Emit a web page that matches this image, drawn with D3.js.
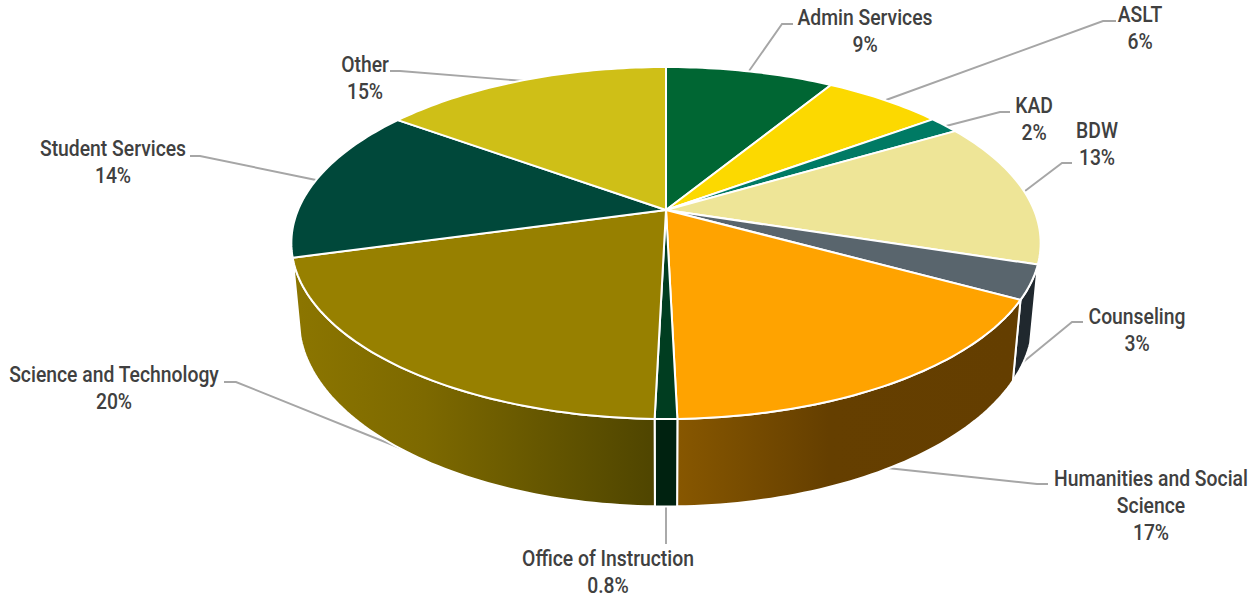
<!DOCTYPE html>
<html>
<head>
<meta charset="utf-8">
<title>Share by division</title>
<script src="https://d3js.org/d3.v7.min.js"></script>
<style>
  html, body { margin: 0; padding: 0; background: #fff; }
  svg { display: block; }
  text { font-family: Roboto, "Liberation Sans", sans-serif; font-weight: 500; font-size: 22.5px; fill: #404040; text-anchor: middle; }
</style>
</head>
<body>
<svg id="chart" width="1257" height="600"></svg>
<script>
// Divisions clockwise from twelve o'clock
const divisions = ["Admin Services", "ASLT", "KAD", "BDW", "Counseling",
  "Humanities and Social Science", "Office of Instruction",
  "Science and Technology", "Student Services", "Other"];
const shares = [8.7, 6.2, 1.6, 13.4, 3.1, 16.6, 0.8, 20.3, 14.3, 15.0];
const topColors = ["#006633", "#fcd900", "#007a64", "#eee597", "#59656d",
  "#ffa300", "#003d20", "#978000", "#00483a", "#cfbf17"];
const wallColors = [null, null, null, null, "#20282e", "url(#wall-humanities)", "#002210", "url(#wall-science)", null, null];

// Label line breaks and placement
const labelLines = [["Admin Services"], ["ASLT"], ["KAD"], ["BDW"], ["Counseling"],
  ["Humanities and Social", "Science"], ["Office of Instruction"],
  ["Science and Technology"], ["Student Services"], ["Other"]];
const labelAnchors = [[865, 25], [1140, 22], [1034, 113], [1097, 138], [1137, 324],
  [1151, 486], [608, 566], [114, 382], [113, 156], [365, 72]];
const labelSqueeze = 0.86;
const leaders = [
  [[749, 71], [782, 24], [793, 24]],
  [[886, 100], [1103, 21], [1116, 21]],
  [[946, 126], [1000, 112], [1010, 112]],
  [[1025, 191], [1062, 163], [1072, 163]],
  [[1022, 363], [1072, 322], [1083, 322]],
  [[887, 468], [1037, 484], [1048, 484]],
  [[666, 506], [666, 544]],
  [[410, 452], [236, 382], [224, 382]],
  [[316, 180], [200, 156], [190, 156]],
  [[524, 81], [400, 71], [390, 71]]
];

// Perspective camera over the unit disc: z = 0 is the top face, z = 1 the bottom rim
const apex = { x: 666, y: 210 };
const camera = { width: 368, tilt: 169.8, drop: 77, foreshorten: 0.1875, shrink: 0.02 };
function project(angle, radius, z) {
  const x = radius * Math.sin(angle);
  const y = -radius * Math.cos(angle);
  const d = 1 - camera.foreshorten * y + camera.shrink * z;
  return [apex.x + camera.width * x / d, apex.y + (camera.tilt * y + camera.drop * z) / d];
}

function arcSamples(a0, a1, z) {
  const n = Math.max(2, Math.ceil((a1 - a0) / 0.02));
  return d3.range(n + 1).map(i => project(a0 + (a1 - a0) * i / n, 1, z));
}

const pie = d3.pie().sort(null).value(d => d)(shares);
const line = d3.line();
const svg = d3.select("#chart");

// Horizontal shading across the two large outer walls
const defs = svg.append("defs");
function wallGradient(id, x1, x2, stops) {
  const g = defs.append("linearGradient").attr("id", id)
    .attr("gradientUnits", "userSpaceOnUse")
    .attr("x1", x1).attr("x2", x2).attr("y1", 0).attr("y2", 0);
  stops.forEach(([o, c]) => g.append("stop").attr("offset", o).attr("stop-color", c));
}
wallGradient("wall-science", 300, 655, [[0, "#8b7500"], [0.35, "#7d6900"], [1, "#4f4500"]]);
wallGradient("wall-humanities", 678, 1013, [[0, "#875700"], [0.45, "#653f00"], [1, "#643e00"]]);

// Leader lines sit under the pie
svg.append("g").selectAll("path").data(leaders).join("path")
  .attr("d", d => line(d))
  .attr("fill", "none").attr("stroke", "#a6a6a6").attr("stroke-width", 1.9);

// Outer walls, only for slices facing the viewer
const facing = pie.filter(s => Math.cos((s.startAngle + s.endAngle) / 2) < 0);
svg.append("g").selectAll("path").data(facing).join("path")
  .attr("d", s => line(arcSamples(s.startAngle, s.endAngle, 0)
    .concat(arcSamples(s.startAngle, s.endAngle, 1).reverse())) + "Z")
  .attr("fill", s => wallColors[s.index])
  .attr("stroke", "#fff").attr("stroke-width", 2).attr("stroke-linejoin", "round");

// Top face of each slice
svg.append("g").selectAll("path").data(pie).join("path")
  .attr("d", s => line([[apex.x, apex.y]].concat(arcSamples(s.startAngle, s.endAngle, 0))) + "Z")
  .attr("fill", s => topColors[s.index])
  .attr("stroke", "#fff").attr("stroke-width", 2).attr("stroke-linejoin", "round");

// Labels: name lines followed by the rounded share
const lineHeight = 27;
const percent = v => (v < 1 ? d3.format(".1f")(v) : d3.format(".0f")(v)) + "%";
const labels = svg.append("g").selectAll("text").data(divisions).join("text")
  .attr("transform", (d, i) => `translate(${labelAnchors[i][0]},${labelAnchors[i][1]}) scale(${labelSqueeze},1)`);
labels.each(function (d, i) {
  const t = d3.select(this);
  labelLines[i].concat(percent(shares[i])).forEach((s, j) => {
    t.append("tspan").attr("x", 0).attr("dy", j ? lineHeight : 0).text(s);
  });
});
</script>
</body>
</html>
